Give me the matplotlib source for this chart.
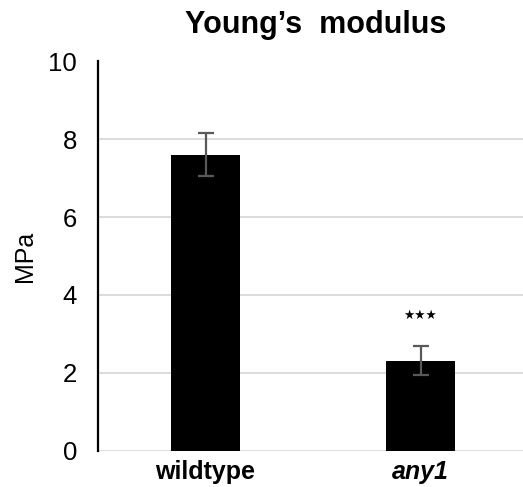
import matplotlib
matplotlib.use("Agg")
import matplotlib.pyplot as plt

categories = ["wildtype", "any1"]
values = [7.6, 2.31]
errors = [0.55, 0.38]
yticks = [0, 2, 4, 6, 8, 10]
star_text = "★★★"
star_y = 3.47

plt.rcParams['font.family'] = ['Liberation Sans', 'DejaVu Sans']

fig = plt.figure(figsize=(5.23, 4.87), dpi=100)
W, H = 523, 487
left, right, top, bottom = 98, 523, 61.5, 450.5
ax = fig.add_axes([left / W, 1 - bottom / H, (right - left) / W, (bottom - top) / H])

x = list(range(len(categories)))
ax.bar(x, values, width=0.325, color="black", zorder=3)
ax.errorbar(x, values, yerr=errors, fmt="none", ecolor="#595959",
            elinewidth=1.6, capsize=6, capthick=1.6, zorder=4)

ax.set_xlim(-0.5, 1.5 - 5 / 215)
ax.set_ylim(0, 10)
ax.set_yticks(yticks)
ax.set_yticklabels([str(t) for t in yticks], fontsize=18.5)
ax.yaxis.grid(True, color="#d9d9d9", linewidth=1.3, zorder=0)
ax.set_axisbelow(True)
ax.tick_params(axis="y", length=0, pad=15)
ax.tick_params(axis="x", length=0, pad=7)
ax.set_xticks(x)
ax.set_xticklabels(categories, fontsize=18, fontweight="bold")
ax.get_xticklabels()[1].set_fontstyle("italic")

for s in ["top", "right", "bottom"]:
    ax.spines[s].set_visible(False)
ax.spines["left"].set_linewidth(1.6)
ax.spines["left"].set_color("black")

ax.set_ylabel("MPa", fontsize=18, labelpad=8)
ax.text(1, star_y, star_text, ha="center", va="center", fontsize=9,
        family=["DejaVu Sans"])

fig.text(316 / W, 1 - 25 / H, "Young’s  modulus", ha="center", va="center",
         fontsize=22, fontweight="bold")

fig.savefig("out.png", dpi=100)
